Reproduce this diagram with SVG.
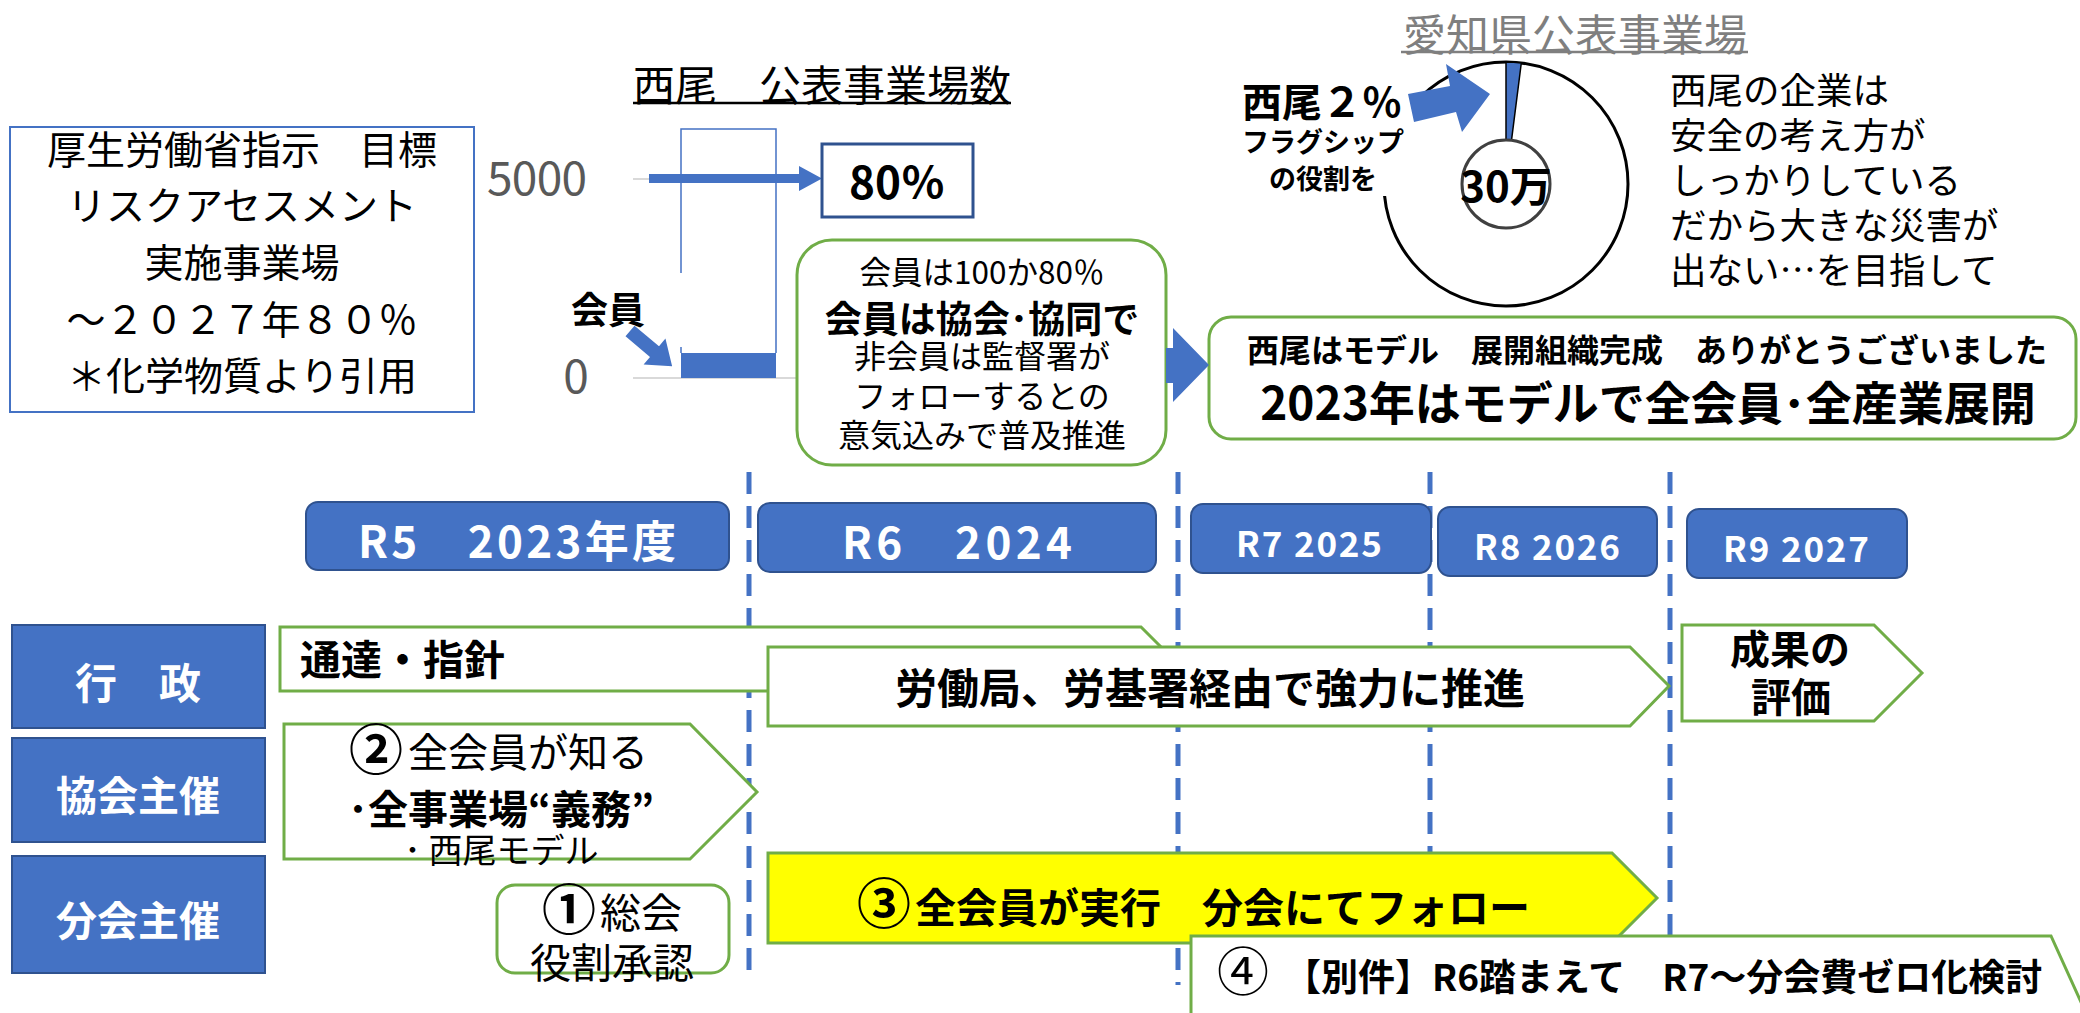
<svg xmlns="http://www.w3.org/2000/svg" width="2080" height="1013" viewBox="0 0 2080 1013">
<defs>
<style>
text{font-family:'Noto Sans CJK JP','Noto Sans',sans-serif;fill:#000}
.b{font-weight:bold}
.w{fill:#fff;font-weight:bold}
.g{fill:#595959}
.blu{fill:#4472C4;stroke:#2F528F;stroke-width:2}
.grn{fill:#fff;stroke:#70AD47;stroke-width:3}
.dash{stroke:#4472C4;stroke-width:5;stroke-dasharray:22 12;fill:none}
.arr{fill:#4472C4;stroke:none}
</style>
</defs>
<rect width="2080" height="1013" fill="#fff"/>

<g id="target-box">
<rect x="10" y="127" width="464" height="285" fill="#fff" stroke="#4472C4" stroke-width="2"/>
<text x="242" y="147" font-size="39" text-anchor="middle" dominant-baseline="central">厚生労働省指示　目標</text>
<text x="242" y="203" font-size="39" text-anchor="middle" dominant-baseline="central">リスクアセスメント</text>
<text x="242" y="260" font-size="39" text-anchor="middle" dominant-baseline="central">実施事業場</text>
<text x="242" y="317" font-size="39" text-anchor="middle" dominant-baseline="central">～２０２７年８０％</text>
<text x="242" y="373" font-size="39" text-anchor="middle" dominant-baseline="central">＊化学物質より引用</text>
</g>

<g id="bar-chart">
<text x="822" y="82" font-size="42" text-anchor="middle" dominant-baseline="central">西尾　公表事業場数</text>
<line x1="633" y1="103" x2="1011" y2="103" stroke="#000" stroke-width="2.5"/>
<line x1="633" y1="179" x2="681" y2="179" stroke="#D9D9D9" stroke-width="2"/>
<line x1="633" y1="378" x2="796" y2="378" stroke="#D9D9D9" stroke-width="2"/>
<text x="537" y="175" font-size="46" class="g" text-anchor="middle" dominant-baseline="central" textLength="100">5000</text>
<text x="576" y="373" font-size="46" class="g" text-anchor="middle" dominant-baseline="central">0</text>
<path d="M681,273 V129 H776 V353" fill="none" stroke="#4472C4" stroke-width="1.5"/>
<line x1="681" y1="347" x2="681" y2="353" stroke="#4472C4" stroke-width="1.5"/>
<rect x="681" y="353" width="95" height="25" fill="#4472C4"/>
<polygon class="arr" points="649,174 799,174 799,166 822,178.5 799,191 799,183 649,183"/>
<text x="608" y="308" font-size="37" class="b" text-anchor="middle" dominant-baseline="central">会員</text>
<g transform="translate(630,331) rotate(40)">
<polygon class="arr" points="0,-7 32,-7 32,-17 55,0 32,17 32,7 0,7"/>
</g>
</g>

<g id="pct-box">
<rect x="822" y="144" width="151" height="73" fill="#fff" stroke="#2F528F" stroke-width="3"/>
<text x="897" y="180" font-size="44" class="b" text-anchor="middle" dominant-baseline="central">80％</text>
</g>

<g id="member-box">
<rect x="797" y="240" width="369" height="225" rx="35" class="grn"/>
<text x="982" y="270" font-size="31.5" text-anchor="middle" dominant-baseline="central">会員は100か80％</text>
<text x="982" y="317" font-size="37" class="b" text-anchor="middle" dominant-baseline="central">会員は協会･協同で</text>
<text x="982" y="354" font-size="32" text-anchor="middle" dominant-baseline="central">非会員は監督署が</text>
<text x="982" y="394" font-size="32" text-anchor="middle" dominant-baseline="central">フォローするとの</text>
<text x="982" y="433" font-size="32" text-anchor="middle" dominant-baseline="central">意気込みで普及推進</text>
</g>

<g id="model-box">
<rect x="1209" y="317" width="867" height="122" rx="22" class="grn"/>
<text x="1647" y="348" font-size="32" class="b" text-anchor="middle" dominant-baseline="central">西尾はモデル　展開組織完成　ありがとうございました</text>
<text x="1648" y="400" font-size="46" class="b" text-anchor="middle" dominant-baseline="central">2023年はモデルで全会員･全産業展開</text>
</g>

<g id="pie-chart">
<text x="1575" y="32" font-size="43" style="fill:#7F7F7F" text-anchor="middle" dominant-baseline="central">愛知県公表事業場</text>
<line x1="1401" y1="52" x2="1748" y2="52" stroke="#7F7F7F" stroke-width="2.5"/>
<circle cx="1506" cy="184" r="122" fill="#fff" stroke="#000" stroke-width="3"/>
<path d="M1506,62 A122,122 0 0 1 1521.3,63 L1511.5,140.3 A44,44 0 0 0 1506,140 Z" fill="#4472C4" stroke="#000" stroke-width="1.5"/>
<circle cx="1506" cy="184" r="44" fill="#fff" stroke="#404040" stroke-width="3"/>
<text x="1506" y="183" font-size="42" class="b" text-anchor="middle" dominant-baseline="central">30万</text>
<rect x="1236" y="86" width="176" height="110" fill="#fff"/>
<text x="1242" y="100" font-size="40" class="b" dominant-baseline="central">西尾２％</text>
<text x="1323" y="140" font-size="27" class="b" text-anchor="middle" dominant-baseline="central">フラグシップ</text>
<text x="1323" y="177" font-size="27" class="b" text-anchor="middle" dominant-baseline="central">の役割を</text>
<polygon class="arr" points="1408,94 1450,86 1446,64 1490,94 1462,132 1456,112 1414,122"/>
</g>

<g id="comment">
<text x="1670" y="88" font-size="36.5" dominant-baseline="central">西尾の企業は</text>
<text x="1670" y="133" font-size="36.5" dominant-baseline="central">安全の考え方が</text>
<text x="1670" y="178" font-size="36.5" dominant-baseline="central">しっかりしている</text>
<text x="1670" y="223" font-size="36.5" dominant-baseline="central">だから大きな災害が</text>
<text x="1670" y="268" font-size="36.5" dominant-baseline="central">出ない…を目指して</text>
</g>

<g id="connectors">
<polygon class="arr" points="1166,348 1173,348 1173,328 1209,365 1173,402 1173,383 1166,383"/>
<line class="dash" x1="749" y1="472" x2="749" y2="982"/>
<line class="dash" x1="1178" y1="472" x2="1178" y2="985"/>
<line class="dash" x1="1430" y1="472" x2="1430" y2="985"/>
<line class="dash" x1="1670" y1="472" x2="1670" y2="985"/>
</g>

<g id="year-r5"><rect x="306" y="502" width="423" height="68" rx="12" class="blu"/><text x="517" y="539" font-size="44" class="w" text-anchor="middle" dominant-baseline="central" textLength="318">R5　2023年度</text></g>
<g id="year-r6"><rect x="758" y="503" width="398" height="69" rx="12" class="blu"/><text x="957" y="540" font-size="44" class="w" text-anchor="middle" dominant-baseline="central" textLength="230">R6　2024</text></g>
<g id="year-r7"><rect x="1191" y="504" width="240" height="69" rx="12" class="blu"/><text x="1309" y="541" font-size="35" class="w" text-anchor="middle" dominant-baseline="central" textLength="146">R7 2025</text></g>
<g id="year-r8"><rect x="1438" y="507" width="219" height="69" rx="12" class="blu"/><text x="1547" y="544" font-size="35" class="w" text-anchor="middle" dominant-baseline="central" textLength="146">R8 2026</text></g>
<g id="year-r9"><rect x="1687" y="509" width="220" height="69" rx="12" class="blu"/><text x="1796" y="546" font-size="35" class="w" text-anchor="middle" dominant-baseline="central" textLength="146">R9 2027</text></g>

<g id="row-gyosei"><rect x="12" y="625" width="253" height="103" class="blu"/><text x="138" y="680" font-size="42" class="w" text-anchor="middle" dominant-baseline="central">行　政</text></g>
<g id="row-kyokai"><rect x="12" y="738" width="253" height="104" class="blu"/><text x="138" y="793" font-size="41" class="w" text-anchor="middle" dominant-baseline="central">協会主催</text></g>
<g id="row-bunkai"><rect x="12" y="856" width="253" height="117" class="blu"/><text x="138" y="918" font-size="41" class="w" text-anchor="middle" dominant-baseline="central">分会主催</text></g>

<g id="tsutatsu">
<polygon class="grn" points="280,627 1141,627 1173,659 1141,691 280,691"/>
<text x="300" y="657" font-size="41" class="b" dominant-baseline="central">通達・指針</text>
</g>
<g id="rodokyoku">
<polygon class="grn" points="768,647 1630,647 1669,686 1630,726 768,726"/>
<text x="1210" y="685" font-size="42" class="b" text-anchor="middle" dominant-baseline="central">労働局、労基署経由で強力に推進</text>
</g>
<g id="seika">
<polygon class="grn" points="1682,625 1874,625 1922,673 1874,721 1682,721"/>
<text x="1790" y="647" font-size="40" class="b" text-anchor="middle" dominant-baseline="central">成果の</text>
<text x="1791" y="695" font-size="40" class="b" text-anchor="middle" dominant-baseline="central">評価</text>
</g>
<g id="kyokai-arrow">
<polygon class="grn" points="284,724 690,724 757,792 690,859 284,859"/>
<text x="349" y="746" font-size="54" class="b" dominant-baseline="central">②</text>
<text x="408" y="750" font-size="40" dominant-baseline="central">全会員が知る</text>
<text x="348" y="807" font-size="40" class="b" dominant-baseline="central">･全事業場“義務”</text>
<text x="404" y="848" font-size="34" dominant-baseline="central">･ 西尾モデル</text>
</g>
<g id="sokai">
<rect x="497" y="885" width="232" height="88" rx="18" class="grn"/>
<text x="542" y="906" font-size="54" class="b" dominant-baseline="central">①</text>
<text x="600" y="910" font-size="41" dominant-baseline="central">総会</text>
<text x="612" y="960" font-size="41" text-anchor="middle" dominant-baseline="central">役割承認</text>
</g>
<g id="jikko">
<polygon points="768,853 1612,853 1657,898 1612,943 768,943" fill="#FFFF00" stroke="#70AD47" stroke-width="3"/>
<text x="857" y="900" font-size="54" class="b" dominant-baseline="central">③</text>
<text x="915" y="905" font-size="41" class="b" dominant-baseline="central">全会員が実行　分会にてフォロー</text>
</g>
<g id="bekken">
<polygon class="grn" points="1191,936 2051,936 2110,1066 2051,1200 1191,1200"/>
<text x="1217" y="968" font-size="52" dominant-baseline="central">④</text>
<text x="1284" y="975" font-size="37" class="b" dominant-baseline="central">【別件】R6踏まえて　R7～分会費ゼロ化検討</text>
</g>
</svg>
